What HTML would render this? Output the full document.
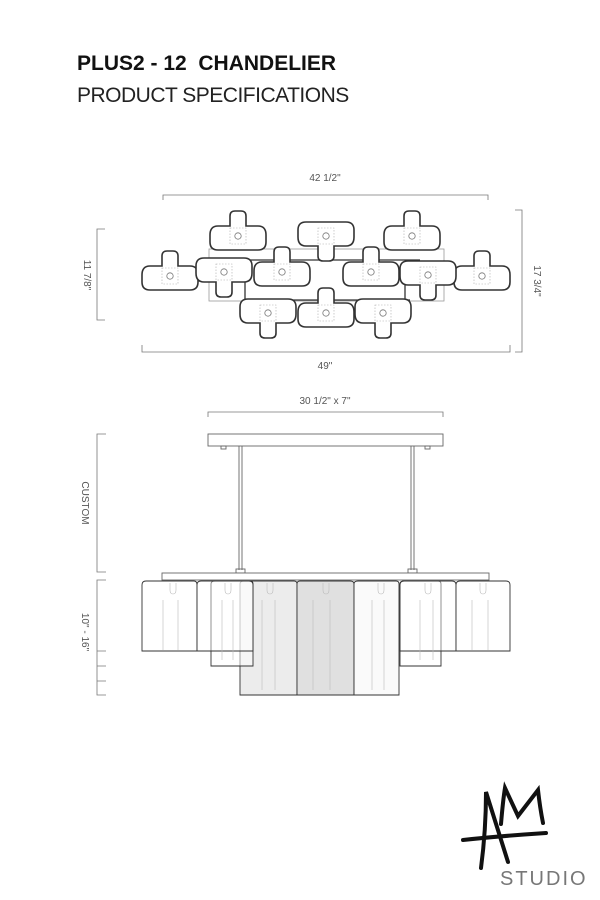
<!DOCTYPE html>
<html><head><meta charset="utf-8"><style>
html,body{margin:0;padding:0;background:#fff}
body{width:600px;height:900px;position:relative;overflow:hidden;font-family:"Liberation Sans",sans-serif}
.t1{position:absolute;left:77px;top:52px;font-size:21px;font-weight:bold;color:#111;letter-spacing:0px}
.t2{position:absolute;left:77px;top:84px;font-size:21px;color:#222;letter-spacing:-0.5px}
</style></head><body>
<div class="t1">PLUS2 - 12&nbsp; CHANDELIER</div>
<div class="t2">PRODUCT SPECIFICATIONS</div>
<svg width="600" height="900" style="position:absolute;left:0;top:0" font-family="Liberation Sans, sans-serif">
<defs>
<g id="up">
<path d="M-8,-20 Q-8,-25 -3,-25 H3 Q8,-25 8,-20 V-10 H20 Q28,-10 28,-1 V6 Q28,14 20,14 H-20 Q-28,14 -28,6 V-1 Q-28,-10 -20,-10 H-8 Z" fill="#fff" stroke="#333" stroke-width="1.6"/>
<rect x="-8" y="-8" width="16" height="16" fill="none" stroke="#aaa" stroke-width="0.6" stroke-dasharray="1.5,1.5"/>
<circle r="3.2" fill="none" stroke="#777" stroke-width="0.8"/>
</g>
<g id="dn">
<path d="M-8,20 Q-8,25 -3,25 H3 Q8,25 8,20 V10 H20 Q28,10 28,1 V-6 Q28,-14 20,-14 H-20 Q-28,-14 -28,-6 V1 Q-28,10 -20,10 H-8 Z" fill="#fff" stroke="#333" stroke-width="1.6"/>
<rect x="-8" y="-8" width="16" height="16" fill="none" stroke="#aaa" stroke-width="0.6" stroke-dasharray="1.5,1.5"/>
<circle r="3.2" fill="none" stroke="#777" stroke-width="0.8"/>
</g>
</defs>
<g fill="none" stroke="#777" stroke-width="0.8">
<path d="M163,200 V195 H488 V200"/>
<path d="M105,229 H97 V320 H105"/>
<path d="M515,210 H522 V352 H515"/>
<path d="M142,345 V352 H510 V345"/>
<path d="M208,417 V412 H443 V417"/>
<path d="M106,434 H97 V572 H106"/>
<path d="M106,580 H97 V695 H106 M97,651 H106 M97,666 H106 M97,681 H106"/>
</g>
<g fill="#555" font-size="10">
<text x="325" y="181" text-anchor="middle">42 1/2"</text>
<text x="325" y="369" text-anchor="middle">49"</text>
<text x="325" y="404" text-anchor="middle">30 1/2" x 7"</text>
<text transform="translate(84,275) rotate(90)" text-anchor="middle">11 7/8"</text>
<text transform="translate(534,281) rotate(90)" text-anchor="middle">17 3/4"</text>
<text transform="translate(82,503) rotate(90)" text-anchor="middle">CUSTOM</text>
<text transform="translate(82,632) rotate(90)" text-anchor="middle">10" - 16"</text>
</g>
<g fill="none" stroke="#999" stroke-width="0.8">
<rect x="209" y="249" width="235" height="52"/>
</g>
<g fill="none" stroke="#333" stroke-width="1.3">
<path d="M230,260 H420 M245,300 H410 M245,268 V300 M405,262 V300"/>
</g>
<use href="#up" x="238" y="236"/>
<use href="#dn" x="326" y="236"/>
<use href="#up" x="412" y="236"/>
<use href="#up" x="170" y="276"/>
<use href="#dn" x="224" y="272"/>
<use href="#up" x="482" y="276"/>
<use href="#dn" x="428" y="275"/>
<use href="#up" x="282" y="272"/>
<use href="#up" x="371" y="272"/>
<use href="#dn" x="268" y="313"/>
<use href="#up" x="326" y="313"/>
<use href="#dn" x="383" y="313"/>
<g fill="none" stroke="#666" stroke-width="0.9">
<rect x="208" y="434" width="235" height="12" fill="#fff"/>
<rect x="221" y="446" width="5" height="3"/>
<rect x="425" y="446" width="5" height="3"/>
<path d="M239,446 V570 M242,446 V570 M411,446 V570 M414,446 V570"/>
<rect x="236" y="569" width="9" height="4"/>
<rect x="408" y="569" width="9" height="4"/>
<rect x="162" y="573" width="327" height="7" fill="#fff"/>
</g>
<g stroke="#333" stroke-width="0.9">
<path d="M240,695 V584 Q240,581 244,581 H294 Q297,581 297,584 V695 Z" fill="#ececec"/>
<path d="M354,695 V584 Q354,581 350,581 H300 Q297,581 297,584 V695 Z" fill="#e0e0e0"/>
<path d="M354,695 V584 Q354,581 358,581 H396 Q399,581 399,584 V695 Z" fill="#f6f6f6" fill-opacity="0.6"/>
<path d="M211,666 V584 Q211,581 215,581 H250 Q253,581 253,584 V666 Z" fill="#fff" fill-opacity="0.5"/>
<path d="M400,666 V584 Q400,581 404,581 H438 Q441,581 441,584 V666 Z" fill="#fff" fill-opacity="0.5"/>
<path d="M142,651 V585 Q142,581 146,581 H194 Q197,581 197,585 V651 Z" fill="#fff" fill-opacity="0.7"/>
<path d="M197,651 V585 Q197,581 201,581 H249 Q253,581 253,585 V651 Z" fill="#fff" fill-opacity="0.4"/>
<path d="M400,651 V585 Q400,581 404,581 H452 Q456,581 456,585 V651 Z" fill="#fff" fill-opacity="0.4"/>
<path d="M456,651 V585 Q456,581 460,581 H506 Q510,581 510,585 V651 Z" fill="#fff" fill-opacity="0.7"/>
</g>
<g fill="none" stroke="#bbb" stroke-width="0.6">
<path d="M163,600 V650 M178,600 V650 M222,600 V660 M233,600 V660 M262,600 V690 M275,600 V690 M313,600 V690 M330,600 V690 M372,600 V690 M384,600 V690 M420,600 V660 M433,600 V660 M472,600 V650 M488,600 V650"/>
<path d="M170,583 V590 Q170,594 173,594 Q176,594 176,590 V583 M225,583 V590 Q225,594 228,594 Q231,594 231,590 V583 M267,583 V590 Q267,594 270,594 Q273,594 273,590 V583 M323,583 V590 Q323,594 326,594 Q329,594 329,590 V583 M378,583 V590 Q378,594 381,594 Q384,594 384,590 V583 M425,583 V590 Q425,594 428,594 Q431,594 431,590 V583 M480,583 V590 Q480,594 483,594 Q486,594 486,590 V583"/>
</g>
<g stroke="#111" stroke-width="4" fill="none" stroke-linecap="round">
<path d="M481,868 Q486,830 486,792 L508,862"/>
<path d="M463,840 Q500,836 546,833"/>
<path d="M501,824 Q503,800 505,788 L518,816 L538,790 Q540,808 543,823"/>
</g>
<text x="500" y="885" font-size="20" fill="#777" letter-spacing="2">STUDIO</text>
</svg>
</body></html>
